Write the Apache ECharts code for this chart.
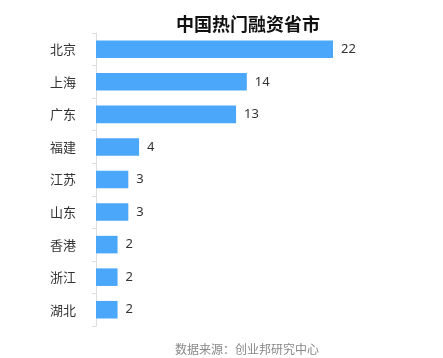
<!DOCTYPE html>
<html><head><meta charset="utf-8">
<script src="https://cdn.jsdelivr.net/npm/echarts@6/dist/echarts.min.js"></script>
<style>html,body{margin:0;padding:0;background:#fff}#c{width:443px;height:358px}</style>
</head><body><div id="c"></div>
<script>
var categories = ['北京','上海','广东','福建','江苏','山东','香港','浙江','湖北'];
var values = [22,14,13,4,3,3,2,2,2];
var titleText = '中国热门融资省市';
var sourceText = '数据来源：创业邦研究中心';

var chart = echarts.init(document.getElementById('c'));
chart.setOption({
  backgroundColor: '#fff',
  animation: false,
  title: [{
    text: titleText, left: 243, top: 10, textAlign: 'center',
    textStyle: {fontSize: 18, fontWeight: 'bold', color: '#111', fontFamily: 'Noto Sans CJK SC'}
  }, {
    text: sourceText, left: 242, top: 338, textAlign: 'center',
    textStyle: {fontSize: 12, fontWeight: 'normal', color: '#888', fontFamily: 'Noto Sans CJK SC'}
  }],
  grid: {left: 96, top: 33, width: 237, height: 293, containLabel: false},
  xAxis: {type: 'value', min: 0, max: 22, show: false},
  yAxis: {
    type: 'category', data: categories, inverse: true,
    axisLine: {show: true, lineStyle: {color: '#ddd', width: 1}},
    axisTick: {show: true, length: 4, lineStyle: {color: '#ddd'}},
    axisLabel: {margin: 20, fontSize: 13, color: '#333', fontFamily: 'Noto Sans CJK SC'}
  },
  series: [{
    type: 'bar', data: values, barWidth: '54%',
    itemStyle: {color: '#4ba7f9'},
    label: {show: true, position: 'right', distance: 8, fontSize: 13, color: '#333', fontFamily: 'Noto Sans'}
  }]
});
</script></body></html>
